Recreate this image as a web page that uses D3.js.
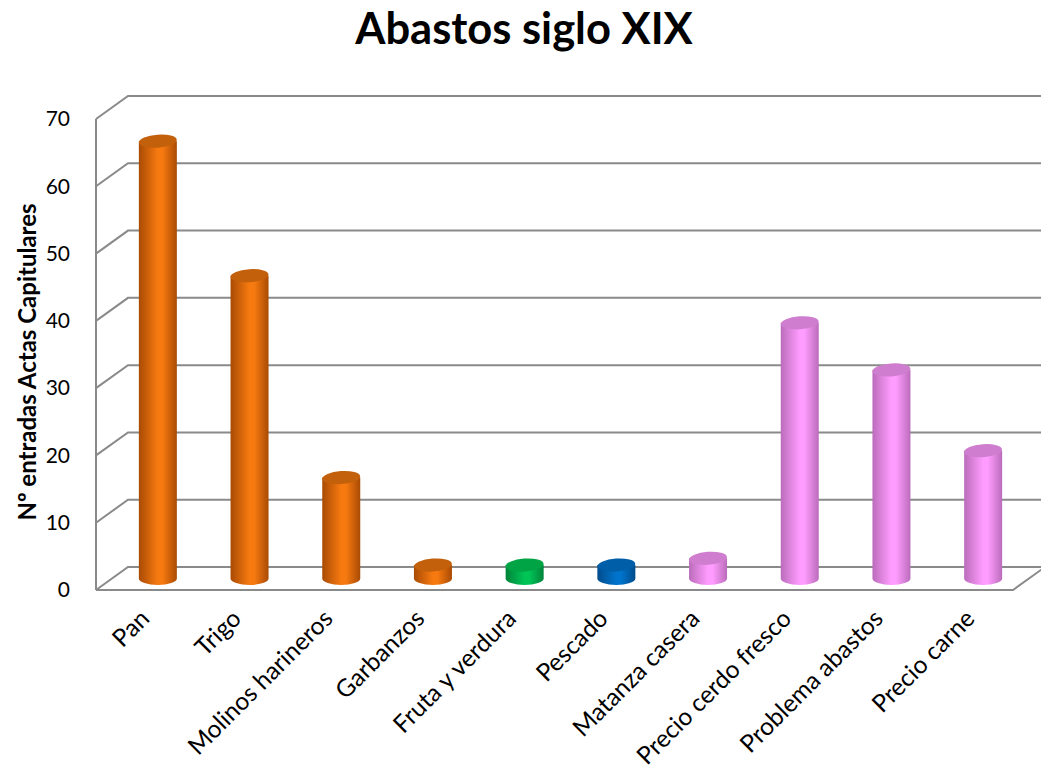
<!DOCTYPE html>
<html>
<head>
<meta charset="utf-8">
<script src="https://cdn.jsdelivr.net/npm/d3@7"></script>
<style>
  html, body { margin: 0; padding: 0; background: #fff; }
  svg { display: block; font-family: Lato, "Open Sans", sans-serif; }
</style>
</head>
<body>
<svg id="chart" width="1041" height="769"></svg>
<script>
// Entries in the Actas Capitulares per supply topic
const categories = ["Pan", "Trigo", "Molinos harineros", "Garbanzos", "Fruta y verdura",
  "Pescado", "Matanza casera", "Precio cerdo fresco", "Problema abastos", "Precio carne"];
const values = [65, 45, 15, 2, 2, 2, 3, 38, 31, 19];
const groups = ["cereal", "cereal", "cereal", "cereal", "huerta", "pescado",
  "carne", "carne", "carne", "carne"];
const yTicks = [0, 10, 20, 30, 40, 50, 60, 70];

const palette = {
  cereal:  { edge: "#a94b04", mid: "#f77a10", top: "#c2600c" },
  huerta:  { edge: "#00843a", mid: "#00c456", top: "#00a444" },
  pescado: { edge: "#004c8c", mid: "#0074cc", top: "#005ea8" },
  carne:   { edge: "#bb6cbb", mid: "#ff9cff", top: "#cf7ecf" }
};

const svg = d3.select("#chart");
const W = 1041;

// 3D box geometry: front plane and the offset to the back wall
const frontLeft = 96, frontRight = 1013;
const depthX = 32, depthY = -23;
const y = d3.scaleLinear().domain([0, 70]).range([590, 119]);
const x = d3.scaleBand().domain(categories).range([frontLeft, frontRight]);

const defs = svg.append("defs");
Object.entries(palette).forEach(([k, c]) => {
  const g = defs.append("linearGradient").attr("id", "g-" + k)
    .attr("x1", "0%").attr("x2", "100%").attr("y1", "0%").attr("y2", "0%");
  g.append("stop").attr("offset", "0%").attr("stop-color", c.edge);
  g.append("stop").attr("offset", "50%").attr("stop-color", c.mid);
  g.append("stop").attr("offset", "62%").attr("stop-color", c.mid);
  g.append("stop").attr("offset", "100%").attr("stop-color", c.edge);
});

// gridlines: short diagonal on the side wall plus the line across the back wall
const grid = svg.append("g").attr("stroke", "#8a8a8a").attr("stroke-width", 2).attr("fill", "none");
yTicks.forEach(t => {
  grid.append("path").attr("d",
    `M${frontLeft},${y(t)} L${frontLeft + depthX},${y(t) + depthY} L${W + 10},${y(t) + depthY}`);
});
grid.append("line").attr("x1", frontLeft).attr("x2", frontLeft)
  .attr("y1", y(70)).attr("y2", y(0));
// floor edge
grid.append("path").attr("d",
  `M${frontLeft},${y(0)} L${frontRight},${y(0)} L${frontRight + depthX},${y(0) + depthY}`);

// cylinders
const rx = 19, ry = 6.5;
const base = y(0) + depthY / 2;
const bars = svg.append("g");
categories.forEach((c, i) => {
  const cx = x(c) + x.bandwidth() / 2 + depthX / 2;
  const h = y(0) - y(values[i]);
  const yTop = base - h;
  const col = palette[groups[i]];
  const g = bars.append("g");
  g.append("path")
    .attr("d", `M${cx - rx},${yTop} L${cx - rx},${base} A${rx},${ry} 0 0 0 ${cx + rx},${base} L${cx + rx},${yTop} Z`)
    .attr("fill", `url(#g-${groups[i]})`);
  g.append("ellipse")
    .attr("cx", cx).attr("cy", yTop).attr("rx", rx).attr("ry", ry)
    .attr("transform", `rotate(-4 ${cx} ${yTop})`)
    .attr("fill", col.top);
});

// value axis labels
svg.append("g").selectAll("text").data(yTicks).join("text")
  .attr("x", 70).attr("y", d => y(d)).attr("dy", "0.35em")
  .attr("text-anchor", "end").attr("font-size", 21).attr("fill", "#000")
  .text(d => d);

// category labels
svg.append("g").selectAll("text").data(categories).join("text")
  .attr("transform", d => `translate(${x(d) + x.bandwidth() / 2 + 3},${614}) rotate(-45)`)
  .attr("dy", "0.35em").attr("text-anchor", "end")
  .attr("font-size", 24.5).attr("fill", "#000")
  .text(d => d);

// axis title
svg.append("text")
  .attr("transform", "translate(28,362) rotate(-90)")
  .attr("dy", "0.35em").attr("text-anchor", "middle")
  .attr("font-size", 24).attr("font-weight", "bold")
  .text("Nº entradas Actas Capitulares");

// chart title
svg.append("text")
  .attr("x", 524).attr("y", 44).attr("text-anchor", "middle")
  .attr("font-size", 43.5).attr("font-weight", "bold")
  .text("Abastos siglo XIX");
</script>
</body>
</html>
